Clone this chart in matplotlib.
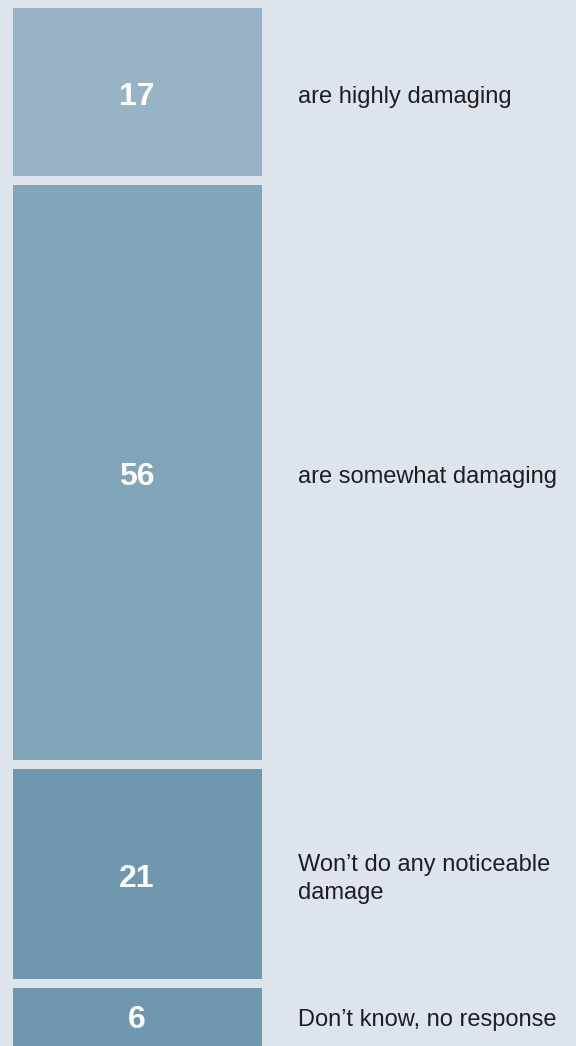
import matplotlib
matplotlib.use("Agg")
import matplotlib.pyplot as plt
import numpy as np

# data
values = [17, 56, 21, 6]
labels = ["are highly damaging", "are somewhat damaging",
          "Won\u2019t do any noticeable\ndamage", "Don\u2019t know, no response"]
colors = ["#98b2c6", "#81a5b9", "#6f97b0", "#6f97b0"]

bg = "#dee4eb"
W, H, dpi = 576, 1046, 100
k = 10.43          # pixels per unit
top_px = 8
gap = 9 / k

fig = plt.figure(figsize=(W / dpi, H / dpi), dpi=dpi, facecolor=bg)
ax = fig.add_axes([0, 0, 1, 1])
ax.set_facecolor(bg)
ax.set_xlim(0, W)
ax.set_ylim((H - top_px) / k, -top_px / k)
ax.axis("off")

cum = np.concatenate([[0], np.cumsum(values)[:-1]])
heights = np.array(values, dtype=float) - gap
heights[-1] += gap   # last block runs off the bottom edge
ax.bar(13, heights, bottom=cum, width=249, align="edge",
       color=colors, linewidth=0)

for c, v, lab in zip(cum, values, labels):
    y = c + v / 2
    ax.text(137, y, str(v), ha="center", va="center", color="white",
            fontsize=23, fontweight="bold", family="Liberation Sans")
    ax.text(298, y, lab, ha="left", va="center", color="#1e1e1e",
            fontsize=17, family="Liberation Sans", linespacing=1.35)

fig.savefig("out.png", dpi=dpi, facecolor=bg)
